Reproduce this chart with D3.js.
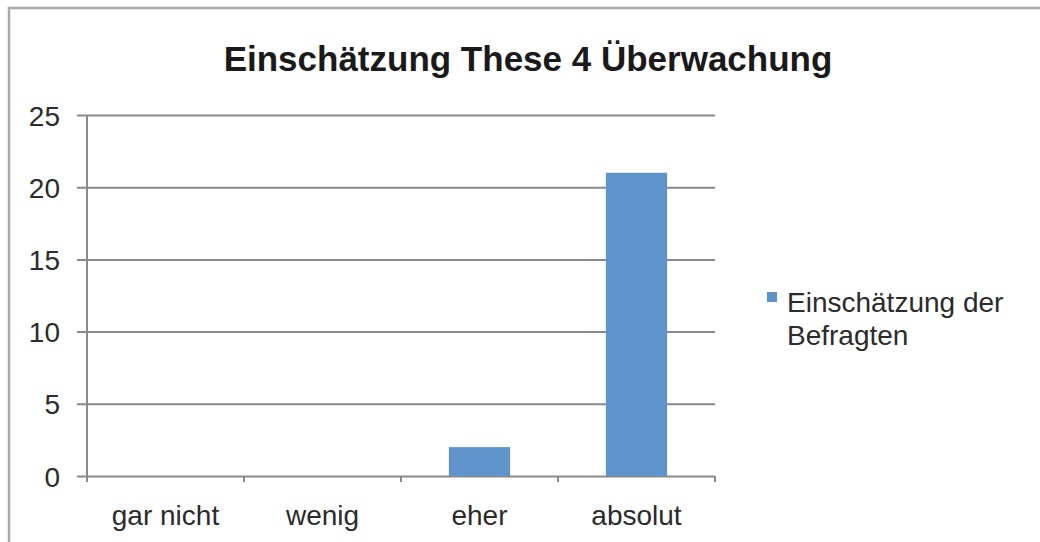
<!DOCTYPE html>
<html>
<head>
<meta charset="utf-8">
<script src="https://cdn.jsdelivr.net/npm/d3@7"></script>
<style>
  html, body { margin: 0; padding: 0; background: #fff; }
  svg { display: block; font-family: "Liberation Sans", Arial, sans-serif; }
</style>
</head>
<body>
<svg id="chart" width="1040" height="542"></svg>
<script>
// Chart data
const title = "Einschätzung These 4 Überwachung";
const categories = ["gar nicht", "wenig", "eher", "absolut"];
const values = [0, 0, 2, 21];
const seriesName = ["Einschätzung der", "Befragten"];
const yTicks = [0, 5, 10, 15, 20, 25];

const svg = d3.select("#chart");
const W = 1040, H = 542;

// Outer frame (top and left edges)
svg.append("path")
  .attr("d", `M9,${H} L9,8 L${W},8`)
  .attr("fill", "none")
  .attr("stroke", "#a9a9a9").attr("stroke-width", 2.5);

const plot = { left: 87, right: 715, top: 115, bottom: 476 };

const x = d3.scaleBand()
  .domain(categories)
  .range([plot.left, plot.right])
  .paddingInner(0).paddingOuter(0);

const y = d3.scaleLinear()
  .domain([0, 25])
  .range([plot.bottom, plot.top]);

// Horizontal gridlines + y tick marks
const yAxis = d3.axisLeft(y)
  .tickValues(yTicks)
  .tickSize(plot.right - plot.left)
  .tickPadding(0)
  .tickFormat(d3.format("d"));

const gy = svg.append("g")
  .attr("transform", `translate(${plot.right},0)`)
  .call(yAxis);
gy.select(".domain").remove();
gy.selectAll(".tick line")
  .attr("stroke", "#8a8a8a").attr("stroke-width", 2)
  .attr("x1", 0).attr("x2", -(plot.right - plot.left) - 10);
gy.selectAll(".tick text")
  .attr("x", -(plot.right - plot.left) - 27)
  .attr("dy", "0.36em")
  .attr("fill", "#2b2b2b")
  .style("font-size", "28px");

// Vertical axis line
svg.append("line")
  .attr("x1", plot.left).attr("x2", plot.left)
  .attr("y1", plot.top).attr("y2", plot.bottom + 5)
  .attr("stroke", "#8a8a8a").attr("stroke-width", 2);

// Category boundary ticks under the baseline
const bounds = categories.map(c => x(c)).concat([x(categories[categories.length - 1]) + x.bandwidth()]);
svg.append("g").selectAll("line")
  .data(bounds)
  .join("line")
  .attr("x1", d => d).attr("x2", d => d)
  .attr("y1", plot.bottom).attr("y2", plot.bottom + 6)
  .attr("stroke", "#8a8a8a").attr("stroke-width", 2);

// Bars
const barW = x.bandwidth() * 0.39;
svg.append("g").selectAll("rect")
  .data(values.map((v, i) => ({ c: categories[i], v })).filter(d => d.v > 0))
  .join("rect")
  .attr("x", d => x(d.c) + (x.bandwidth() - barW) / 2)
  .attr("y", d => y(d.v))
  .attr("width", barW)
  .attr("height", d => y(0) - y(d.v))
  .attr("fill", "#5e93cb");

// Category labels
svg.append("g").selectAll("text")
  .data(categories)
  .join("text")
  .attr("x", d => x(d) + x.bandwidth() / 2)
  .attr("y", 525)
  .attr("text-anchor", "middle")
  .attr("fill", "#2b2b2b")
  .style("font-size", "28px")
  .text(d => d);

// Title
svg.append("text")
  .attr("x", 528).attr("y", 71)
  .attr("text-anchor", "middle")
  .attr("fill", "#1a1a1a")
  .style("font-size", "35px")
  .style("font-weight", "bold")
  .text(title);

// Legend
svg.append("rect")
  .attr("x", 767).attr("y", 292)
  .attr("width", 10).attr("height", 10)
  .attr("fill", "#5e93cb");
svg.append("text")
  .attr("x", 787).attr("y", 312)
  .attr("fill", "#2b2b2b")
  .style("font-size", "28px")
  .selectAll("tspan")
  .data(seriesName)
  .join("tspan")
  .attr("x", 787)
  .attr("dy", (d, i) => i === 0 ? 0 : 33)
  .text(d => d);
</script>
</body>
</html>
